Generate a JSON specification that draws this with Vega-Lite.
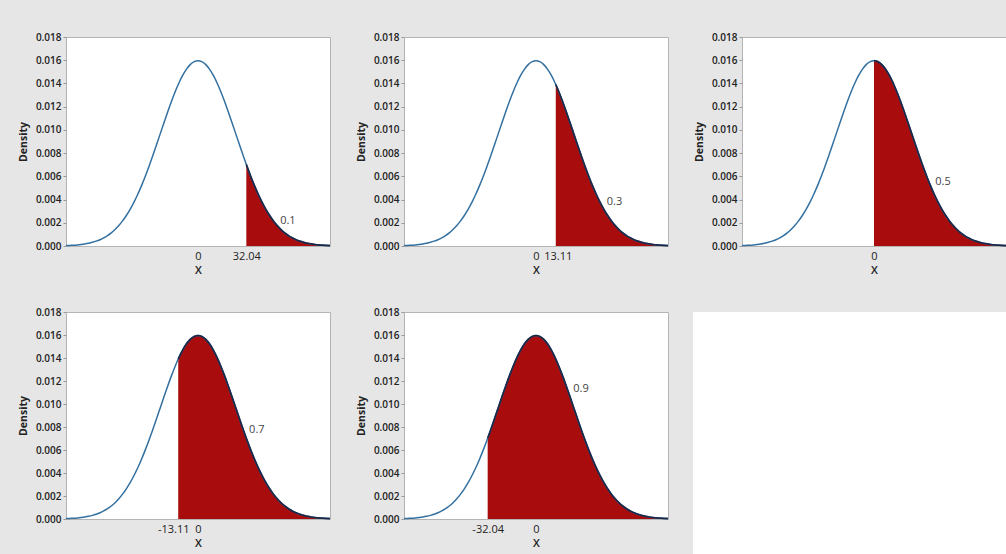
{
  "$schema": "https://vega.github.io/schema/vega-lite/v6.json",
  "background": "#e6e6e6",
  "padding": {"left": 17, "top": 31, "right": 0, "bottom": 0},
  "datasets": {
    "curve": [
      {"x": -87.5, "d": 0.000035}, {"x": -85, "d": 0.000049}, {"x": -82.5, "d": 0.000069}, {"x": -80, "d": 0.000095},
      {"x": -77.5, "d": 0.000131}, {"x": -75, "d": 0.000177}, {"x": -72.5, "d": 0.000238}, {"x": -70, "d": 0.000317},
      {"x": -67.5, "d": 0.000417}, {"x": -65, "d": 0.000543}, {"x": -62.5, "d": 0.000701}, {"x": -60, "d": 0.000896},
      {"x": -57.5, "d": 0.001133}, {"x": -55, "d": 0.001419}, {"x": -52.5, "d": 0.001759}, {"x": -50, "d": 0.00216},
      {"x": -47.5, "d": 0.002625}, {"x": -45, "d": 0.003158}, {"x": -42.5, "d": 0.003762}, {"x": -40, "d": 0.004437},
      {"x": -37.5, "d": 0.005181}, {"x": -35, "d": 0.005989}, {"x": -32.5, "d": 0.006855}, {"x": -32.04, "d": 0.00702},
      {"x": -30, "d": 0.007767}, {"x": -27.5, "d": 0.008714}, {"x": -25, "d": 0.009679}, {"x": -22.5, "d": 0.010644},
      {"x": -20, "d": 0.011588}, {"x": -17.5, "d": 0.01249}, {"x": -15, "d": 0.013329}, {"x": -13.11, "d": 0.013908},
      {"x": -12.5, "d": 0.014083}, {"x": -10, "d": 0.014731}, {"x": -7.5, "d": 0.015256}, {"x": -5, "d": 0.015642},
      {"x": -2.5, "d": 0.015878}, {"x": 0, "d": 0.015958}, {"x": 2.5, "d": 0.015878}, {"x": 5, "d": 0.015642},
      {"x": 7.5, "d": 0.015256}, {"x": 10, "d": 0.014731}, {"x": 12.5, "d": 0.014083}, {"x": 13.11, "d": 0.013908},
      {"x": 15, "d": 0.013329}, {"x": 17.5, "d": 0.01249}, {"x": 20, "d": 0.011588}, {"x": 22.5, "d": 0.010644},
      {"x": 25, "d": 0.009679}, {"x": 27.5, "d": 0.008714}, {"x": 30, "d": 0.007767}, {"x": 32.04, "d": 0.00702},
      {"x": 32.5, "d": 0.006855}, {"x": 35, "d": 0.005989}, {"x": 37.5, "d": 0.005181}, {"x": 40, "d": 0.004437},
      {"x": 42.5, "d": 0.003762}, {"x": 45, "d": 0.003158}, {"x": 47.5, "d": 0.002625}, {"x": 50, "d": 0.00216},
      {"x": 52.5, "d": 0.001759}, {"x": 55, "d": 0.001419}, {"x": 57.5, "d": 0.001133}, {"x": 60, "d": 0.000896},
      {"x": 62.5, "d": 0.000701}, {"x": 65, "d": 0.000543}, {"x": 67.5, "d": 0.000417}, {"x": 70, "d": 0.000317},
      {"x": 72.5, "d": 0.000238}, {"x": 75, "d": 0.000177}, {"x": 77.5, "d": 0.000131}, {"x": 80, "d": 0.000095},
      {"x": 82.5, "d": 0.000069}, {"x": 85, "d": 0.000049}, {"x": 87.5, "d": 0.000035}
    ]
  },
  "spacing": 30,
  "vconcat": [
    {
      "spacing": 21,
      "hconcat": [
        {
          "width": 264, "height": 209,
          "encoding": {
            "x": {"field": "x", "type": "quantitative", "title": "X", "scale": {"domain": [-87.5, 87.5], "nice": false, "zero": false}, "axis": {"values": [0, 32.04], "labelExpr": "toString(datum.value)"}},
            "y": {"field": "d", "type": "quantitative", "title": "Density", "scale": {"domain": [0, 0.018], "nice": false}, "axis": {"values": [0, 0.002, 0.004, 0.006, 0.008, 0.01, 0.012, 0.014, 0.016, 0.018], "format": ".3f"}}
          },
          "layer": [
            {"data": {"name": "curve"}, "transform": [{"filter": "datum.x >= 32.04"}], "mark": {"type": "area", "color": "#a80c0c", "interpolate": "monotone"}},
            {"data": {"name": "curve"}, "mark": {"type": "line", "color": "#33709f", "strokeWidth": 1.5, "interpolate": "monotone"}},
            {"data": {"name": "curve"}, "transform": [{"filter": "datum.x >= 32.04"}], "mark": {"type": "line", "color": "#1c2848", "strokeWidth": 1.7, "interpolate": "monotone"}},
            {"data": {"values": [{"x": 59.6, "d": 0.00215, "label": "0.1"}]}, "mark": {"type": "text", "fontSize": 11, "color": "#444"}, "encoding": {"text": {"field": "label"}}}
          ]
        },
        {
          "width": 264, "height": 209,
          "encoding": {
            "x": {"field": "x", "type": "quantitative", "title": "X", "scale": {"domain": [-87.5, 87.5], "nice": false, "zero": false}, "axis": {"values": [0, 13.11], "labelExpr": "toString(datum.value)", "labelOffset": {"condition": {"test": "datum.value > 0", "value": 2}, "value": 0}}},
            "y": {"field": "d", "type": "quantitative", "title": "Density", "scale": {"domain": [0, 0.018], "nice": false}, "axis": {"values": [0, 0.002, 0.004, 0.006, 0.008, 0.01, 0.012, 0.014, 0.016, 0.018], "format": ".3f"}}
          },
          "layer": [
            {"data": {"name": "curve"}, "transform": [{"filter": "datum.x >= 13.11"}], "mark": {"type": "area", "color": "#a80c0c", "interpolate": "monotone"}},
            {"data": {"name": "curve"}, "mark": {"type": "line", "color": "#33709f", "strokeWidth": 1.5, "interpolate": "monotone"}},
            {"data": {"name": "curve"}, "transform": [{"filter": "datum.x >= 13.11"}], "mark": {"type": "line", "color": "#1c2848", "strokeWidth": 1.7, "interpolate": "monotone"}},
            {"data": {"values": [{"x": 52, "d": 0.0038, "label": "0.3"}]}, "mark": {"type": "text", "fontSize": 11, "color": "#444"}, "encoding": {"text": {"field": "label"}}}
          ]
        },
        {
          "width": 264, "height": 209,
          "encoding": {
            "x": {"field": "x", "type": "quantitative", "title": "X", "scale": {"domain": [-87.5, 87.5], "nice": false, "zero": false}, "axis": {"values": [0], "labelExpr": "toString(datum.value)"}},
            "y": {"field": "d", "type": "quantitative", "title": "Density", "scale": {"domain": [0, 0.018], "nice": false}, "axis": {"values": [0, 0.002, 0.004, 0.006, 0.008, 0.01, 0.012, 0.014, 0.016, 0.018], "format": ".3f"}}
          },
          "layer": [
            {"data": {"name": "curve"}, "transform": [{"filter": "datum.x >= 0"}], "mark": {"type": "area", "color": "#a80c0c", "interpolate": "monotone"}},
            {"data": {"name": "curve"}, "mark": {"type": "line", "color": "#33709f", "strokeWidth": 1.5, "interpolate": "monotone"}},
            {"data": {"name": "curve"}, "transform": [{"filter": "datum.x >= 0"}], "mark": {"type": "line", "color": "#1c2848", "strokeWidth": 1.7, "interpolate": "monotone"}},
            {"data": {"values": [{"x": 45.7, "d": 0.0055, "label": "0.5"}]}, "mark": {"type": "text", "fontSize": 11, "color": "#444"}, "encoding": {"text": {"field": "label"}}}
          ]
        }
      ]
    },
    {
      "spacing": 21,
      "hconcat": [
        {
          "width": 264, "height": 207,
          "encoding": {
            "x": {"field": "x", "type": "quantitative", "title": "X", "scale": {"domain": [-87.5, 87.5], "nice": false, "zero": false}, "axis": {"values": [-13.11, 0], "labelExpr": "toString(datum.value)", "labelOffset": {"condition": {"test": "datum.value < 0", "value": -5}, "value": 0}}},
            "y": {"field": "d", "type": "quantitative", "title": "Density", "scale": {"domain": [0, 0.018], "nice": false}, "axis": {"values": [0, 0.002, 0.004, 0.006, 0.008, 0.01, 0.012, 0.014, 0.016, 0.018], "format": ".3f"}}
          },
          "layer": [
            {"data": {"name": "curve"}, "transform": [{"filter": "datum.x >= -13.11"}], "mark": {"type": "area", "color": "#a80c0c", "interpolate": "monotone"}},
            {"data": {"name": "curve"}, "mark": {"type": "line", "color": "#33709f", "strokeWidth": 1.5, "interpolate": "monotone"}},
            {"data": {"name": "curve"}, "transform": [{"filter": "datum.x >= -13.11"}], "mark": {"type": "line", "color": "#1c2848", "strokeWidth": 1.7, "interpolate": "monotone"}},
            {"data": {"values": [{"x": 39, "d": 0.0077, "label": "0.7"}]}, "mark": {"type": "text", "fontSize": 11, "color": "#444"}, "encoding": {"text": {"field": "label"}}}
          ]
        },
        {
          "width": 264, "height": 207,
          "encoding": {
            "x": {"field": "x", "type": "quantitative", "title": "X", "scale": {"domain": [-87.5, 87.5], "nice": false, "zero": false}, "axis": {"values": [-32.04, 0], "labelExpr": "toString(datum.value)"}},
            "y": {"field": "d", "type": "quantitative", "title": "Density", "scale": {"domain": [0, 0.018], "nice": false}, "axis": {"values": [0, 0.002, 0.004, 0.006, 0.008, 0.01, 0.012, 0.014, 0.016, 0.018], "format": ".3f"}}
          },
          "layer": [
            {"data": {"name": "curve"}, "transform": [{"filter": "datum.x >= -32.04"}], "mark": {"type": "area", "color": "#a80c0c", "interpolate": "monotone"}},
            {"data": {"name": "curve"}, "mark": {"type": "line", "color": "#33709f", "strokeWidth": 1.5, "interpolate": "monotone"}},
            {"data": {"name": "curve"}, "transform": [{"filter": "datum.x >= -32.04"}], "mark": {"type": "line", "color": "#1c2848", "strokeWidth": 1.7, "interpolate": "monotone"}},
            {"data": {"values": [{"x": 29.8, "d": 0.0113, "label": "0.9"}]}, "mark": {"type": "text", "fontSize": 11, "color": "#444"}, "encoding": {"text": {"field": "label"}}}
          ]
        },
        {
          "width": 340, "height": 300,
          "data": {"values": []},
          "mark": "point",
          "view": {"fill": "white", "stroke": null}
        }
      ]
    }
  ],
  "config": {
    "font": "Open Sans",
    "view": {"fill": "white", "stroke": "#b4b4b4", "strokeWidth": 1},
    "axis": {"grid": false, "labelFont": "Open Sans", "titleFont": "Open Sans", "labelColor": "#222", "titleColor": "#222", "domain": false},
    "axisY": {"tickSize": 3, "tickColor": "#999", "labelFontSize": 10, "labelFontWeight": 600, "labelPadding": 2, "titleFontSize": 10.5, "titleFontWeight": 700, "titlePadding": 7},
    "axisX": {"ticks": false, "labelFontSize": 11, "labelPadding": 4, "titleFontSize": 11, "titleFontWeight": 600, "titlePadding": 3, "labelOverlap": false}
  }
}
